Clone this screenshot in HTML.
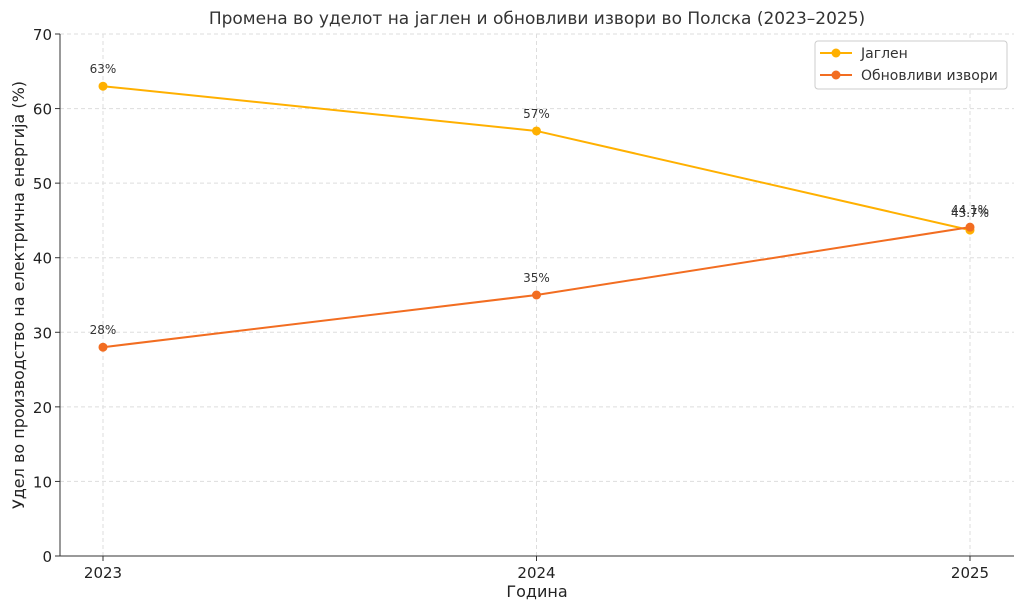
<!DOCTYPE html>
<html><head><meta charset="utf-8"><style>
body{margin:0;background:#fff;font-family:"DejaVu Sans","Liberation Sans",sans-serif}
</style></head><body>
<svg id="c" width="1024" height="611" xmlns="http://www.w3.org/2000/svg" font-family="DejaVu Sans, Liberation Sans, sans-serif"></svg>
<script>
const years=["2023","2024","2025"];
const coal=[63,57,43.7];
const renew=[28,35,44.1];
const coalLabels=["63%","57%","43.7%"];
const renewLabels=["28%","35%","44.1%"];
const yTicks=[0,10,20,30,40,50,60,70];
const NS="http://www.w3.org/2000/svg";
const svg=document.getElementById('c');
const L=60,R=1014,T=34,B=556;
const x=i=>103+i*(970-103)/(years.length-1);
const y=v=>B-(v/70)*(B-T);
function el(t,a,txt,name){const e=document.createElementNS(NS,t);for(const k in a)e.setAttribute(k,a[k]);if(txt!=null)e.textContent=txt;


svg.appendChild(e);return e;}
yTicks.forEach(v=>{
 el('line',{x1:L,x2:R,y1:y(v),y2:y(v),stroke:'#ddd','stroke-dasharray':'4,3'},null,'y-gridline');
 el('line',{x1:L-5,x2:L,y1:y(v),y2:y(v),stroke:'#333'},null,'y-tick');
 el('text',{x:L-8,y:y(v)+6,'text-anchor':'end','font-size':15,fill:'#222'},String(v),'y-tick-label');
});
years.forEach((yr,i)=>{
 el('line',{x1:x(i),x2:x(i),y1:T,y2:B,stroke:'#ddd','stroke-dasharray':'4,3'},null,'x-gridline');
 el('line',{x1:x(i),x2:x(i),y1:B,y2:B+5,stroke:'#333'},null,'x-tick');
 el('text',{x:x(i),y:B+22,'text-anchor':'middle','font-size':15,fill:'#222'},yr,'x-tick-label');
});
el('line',{x1:L,x2:L,y1:T,y2:B,stroke:'#333'},null,'y-axis');
el('line',{x1:L,x2:R,y1:B,y2:B,stroke:'#333'},null,'x-axis');
function series(vals,labels,color,name){
 el('polyline',{points:vals.map((v,i)=>x(i)+','+y(v)).join(' '),fill:'none',stroke:color,'stroke-width':2},null,name+'-line');
 vals.forEach((v,i)=>{
  el('circle',{cx:x(i),cy:y(v),r:4.5,fill:color},null,name+'-point');
  el('text',{x:x(i),y:y(v)-13,'text-anchor':'middle','font-size':12,fill:'#333'},labels[i],name+'-value-label');
 });
}
series(coal,coalLabels,'#FFB000','coal');
series(renew,renewLabels,'#F26D21','renewables');
el('text',{x:537,y:24,'text-anchor':'middle','font-size':17,fill:'#333'},'Промена во уделот на јаглен и обновливи извори во Полска (2023–2025)','chart-title');
el('text',{x:537,y:597,'text-anchor':'middle','font-size':16,fill:'#222'},'Година','x-axis-title');
el('text',{x:24,y:295,'text-anchor':'middle','font-size':16,fill:'#222',transform:'rotate(-90 24 295)'},'Удел во производство на електрична енергија (%)','y-axis-title');
el('rect',{x:815,y:41,width:192,height:48,fill:'#fff',stroke:'#ccc',rx:3},null,'legend');
[['Јаглен','#FFB000',53],['Обновливи извори','#F26D21',75]].forEach(([t,c,yy])=>{
 el('line',{x1:820,x2:852,y1:yy,y2:yy,stroke:c,'stroke-width':2},null,'legend-line');
 el('circle',{cx:836,cy:yy,r:4.5,fill:c},null,'legend-marker');
 el('text',{x:861,y:yy+5,'font-size':14,fill:'#333'},t,'legend-entry');
});
</script>
</body></html>
